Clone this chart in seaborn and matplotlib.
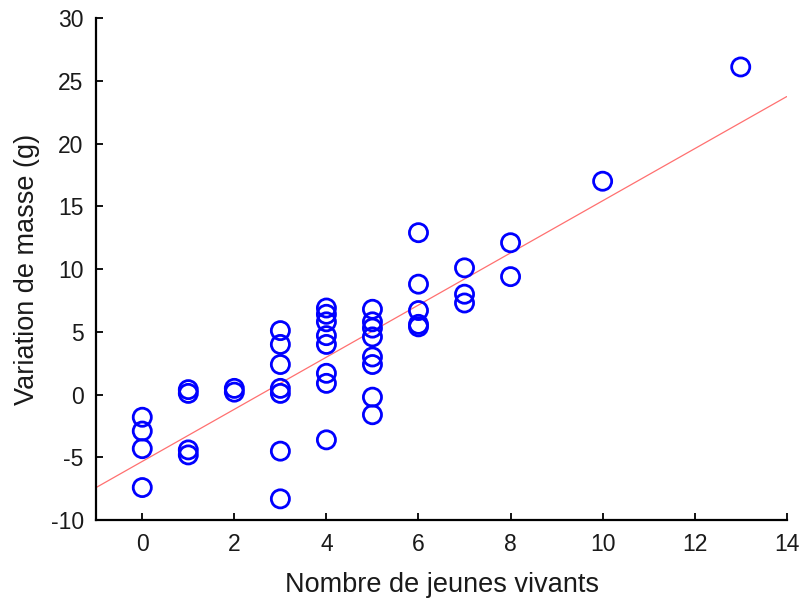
import numpy as np
import pandas as pd
import matplotlib
matplotlib.use("Agg")
import matplotlib.pyplot as plt
import seaborn as sns

# Nombre de jeunes vivants vs variation de masse (g)
jeunes = [0, 0, 0, 0,
          1, 1, 1, 1,
          2, 2,
          3, 3, 3, 3, 3, 3, 3,
          4, 4, 4, 4, 4, 4, 4, 4,
          5, 5, 5, 5, 5, 5, 5, 5,
          6, 6, 6, 6, 6,
          7, 7, 7,
          8, 8,
          10,
          13]
masse = [-1.8, -2.9, -4.3, -7.4,
         0.4, 0.1, -4.4, -4.8,
         0.5, 0.2,
         5.1, 4.0, 2.4, 0.5, 0.1, -4.5, -8.3,
         6.9, 6.4, 5.8, 4.7, 4.0, 1.7, 0.9, -3.6,
         6.8, 5.8, 5.3, 4.6, 3.0, 2.4, -0.2, -1.6,
         12.9, 8.8, 6.7, 5.6, 5.4,
         10.1, 8.0, 7.3,
         12.1, 9.4,
         17.0,
         26.1]

xticks = [0, 2, 4, 6, 8, 10, 12, 14]
yticks = [-10, -5, 0, 5, 10, 15, 20, 25, 30]

df = pd.DataFrame({"jeunes": jeunes, "masse": masse})

sns.set_style("white")
plt.rcParams['font.family'] = ['Liberation Sans', 'DejaVu Sans']
plt.rcParams['axes.unicode_minus'] = False

fig = plt.figure(figsize=(8.02, 6.0), dpi=100)
ax = fig.add_axes([0.12, 0.133, 0.861, 0.837])
ax.set_xlim(-1, 14)
ax.set_ylim(-10, 30)

sns.regplot(data=df, x="jeunes", y="masse", ax=ax, ci=None, truncate=False,
            scatter_kws={"s": 170, "facecolors": "none", "edgecolors": "#0000ff",
                         "linewidths": 2.0, "alpha": 1, "zorder": 3},
            line_kws={"color": "#ff7070", "lw": 0.9, "zorder": 2})

ax.set_xlim(-1, 14)
ax.set_ylim(-10, 30)
ax.set_xticks(xticks)
ax.set_yticks(yticks)
ax.set_xlabel("Nombre de jeunes vivants", fontsize=19.5, labelpad=12, color="#1a1a1a")
ax.set_ylabel("Variation de masse (g)", fontsize=19.5, labelpad=8, color="#1a1a1a")
ax.tick_params(axis="both", direction="in", length=5, width=1.3, labelsize=16.5,
               colors="black", labelcolor="#1a1a1a", pad=9,
               bottom=True, left=True)
sns.despine(ax=ax)
for s in ["left", "bottom"]:
    ax.spines[s].set_linewidth(1.6)
    ax.spines[s].set_color("black")

fig.savefig("out.png", dpi=100)
